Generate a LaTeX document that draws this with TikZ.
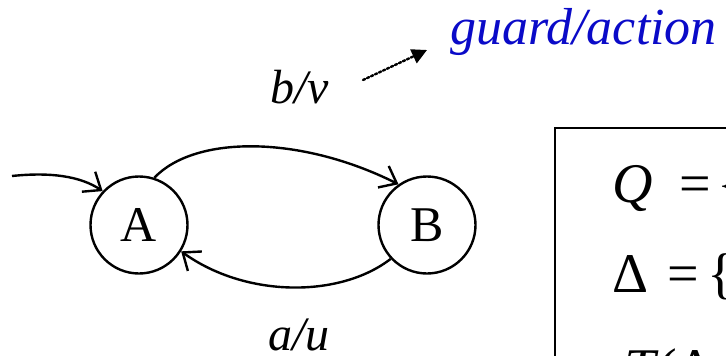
\documentclass[tikz,border=0pt]{standalone}
\usepackage{fontspec}
\setmainfont{Liberation Serif}
\usetikzlibrary{arrows.meta}
\definecolor{guardblue}{RGB}{10,10,200}

\begin{document}
\begin{tikzpicture}[x=1pt,y=-1pt,
  every node/.style={inner sep=0pt},
  state/.style={draw,circle,line width=2.4pt,minimum size=97pt,
    font=\fontsize{50}{54}\selectfont},
  trans/.style={line width=2.4pt,-{Straight Barb[length=15pt,width=24pt,line width=2.4pt]}},
  lbl/.style={anchor=base west,font=\fontsize{48}{52}\selectfont\itshape},
  setline/.style={anchor=base west,font=\fontsize{56}{60}\selectfont}]
  \useasboundingbox (0,0) rectangle (726,356);
  \clip (0,0) rectangle (726,356);
  % states
  \node[state] (A) at (139,225) {A};
  \node[state] (B) at (427,225) {B};
  \coordinate (init) at (12,176);
  \draw[trans] (init) .. controls (50,172) and (80,176) .. (A.137);
  \draw[trans] (A.72) .. controls (195,135) and (300,135) .. (B.125);
  \draw[trans] (B.223) .. controls (340,298) and (246,298) .. (A.-32);
  % labels
  \node[lbl] (bv) at (270,103) {b/v};
  \node[lbl] (au) at (268,350) {a/u};
  \node[lbl,text=guardblue,font=\fontsize{52}{56}\selectfont\itshape]
    (guard) at (450,45) {guard/action};
  \coordinate (hintfrom) at (363,80);
  \coordinate (hintto) at (427,50);
  \draw[dotted,line width=2.4pt,line cap=round,-{Triangle[length=15pt,width=15pt]}]
    (hintfrom) -- (hintto);
  % definition box
  \draw[line width=2.4pt] (555,128) rectangle (760,420);
  \node[setline] (qline) at (612,202) {\textit{Q}\hspace{27pt}=\hspace{6pt}\{};
  \node[setline] (dline) at (612,292) {Δ\hspace{19pt}=\hspace{9pt}\{};
  \node[setline] (tline) at (624,387) {\textit{T}(Δ};
\end{tikzpicture}
\end{document}
